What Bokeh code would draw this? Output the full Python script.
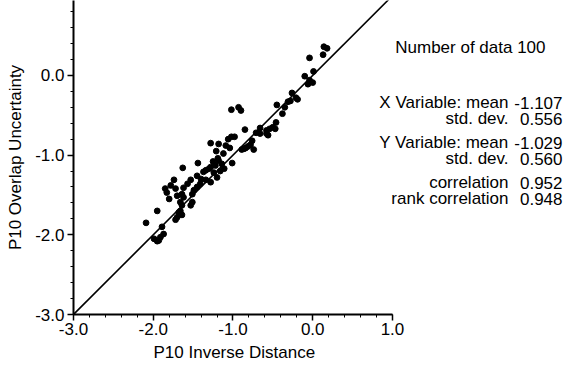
from bokeh.plotting import figure
from bokeh.models import Range1d, FixedTicker, PrintfTickFormatter, Title
from bokeh.core.properties import value
from bokeh.embed import file_html
from bokeh.resources import INLINE

# P10 inverse distance (x) against P10 overlap uncertainty (y), 100 samples
inv_dist = [
    0.14, 0.18, 0.13, -0.04, 0.01, -0.10, -0.04, 0.00, -0.06, -0.26,
    -0.21, -0.19, -0.31, -0.28, -0.45, -0.35, -0.38, -1.02, -0.93, -0.90,
    -0.46, -0.50, -0.54, -0.47, -0.58, -0.56, -0.85, -0.71, -1.02, -0.98,
    -1.06, -1.28, -1.18, -1.09, -0.78, -0.81, -0.84, -0.74, -0.89, -0.86,
    -1.04, -1.21, -1.12, -1.19, -1.44, -1.63, -1.01, -1.18, -1.14, -1.11,
    -1.28, -1.30, -1.34, -1.37, -1.24, -1.20, -1.53, -1.74, -1.78, -1.85,
    -1.83, -1.72, -1.62, -1.41, -1.45, -1.49, -1.51, -1.64, -1.62, -1.66,
    -1.64, -1.51, -1.53, -1.95, -1.68, -1.70, -2.09, -1.89, -1.87, -1.91,
    -1.99, -1.95, -1.93, -1.34, -1.28, -0.66, -0.58, -1.70, -1.64, -1.72,
    -1.66, -1.25, -1.22, -1.16, -1.45, -1.40, -1.57, -0.76, -0.66, -1.80,
]
overlap_unc = [
    0.36, 0.34, 0.26, 0.22, 0.05, -0.01, -0.06, -0.09, -0.11, -0.22,
    -0.28, -0.30, -0.33, -0.32, -0.37, -0.40, -0.48, -0.43, -0.40, -0.44,
    -0.59, -0.65, -0.67, -0.67, -0.73, -0.75, -0.68, -0.72, -0.77, -0.77,
    -0.80, -0.85, -0.86, -0.88, -0.87, -0.89, -0.91, -0.93, -0.93, -0.92,
    -0.91, -0.95, -0.98, -1.04, -1.10, -1.16, -1.10, -1.07, -1.11, -1.17,
    -1.15, -1.17, -1.19, -1.21, -1.22, -1.28, -1.31, -1.31, -1.38, -1.42,
    -1.47, -1.42, -1.41, -1.36, -1.40, -1.44, -1.49, -1.49, -1.53, -1.59,
    -1.63, -1.59, -1.63, -1.70, -1.72, -1.78, -1.85, -1.90, -1.99, -2.03,
    -2.05, -2.08, -2.07, -1.31, -1.34, -0.73, -0.69, -1.51, -1.75, -1.81,
    -1.70, -1.08, -1.13, -1.20, -1.26, -1.30, -1.36, -0.82, -0.66, -1.55,
]

axis_ticks = [-3.0, -2.0, -1.0, 0.0, 1.0]
diag = [-3.0, 1.5]

# summary statistics: (label, value) pairs
stat_names = ["X Variable: mean", "std. dev.",
              "Y Variable: mean", "std. dev.", "correlation", "rank correlation"]
stat_values = ["-1.107", "0.556", "-1.029", "0.560", "0.952", "0.948"]
count_line = "Number of data 100"

FONT = "Liberation Sans"
FS = "17px"

# the frame runs to the right edge so the statistics block can sit beside the
# data; the visible x axis is limited to -3..1
p = figure(width=565, height=368, output_backend="svg", toolbar_location=None,
           x_range=Range1d(-3.0, 3.17), y_range=Range1d(-3.0, 0.94),
           min_border_left=73, min_border_right=0, min_border_top=0,
           min_border_bottom=54)
p.outline_line_color = None
p.xgrid.visible = False
p.ygrid.visible = False
p.background_fill_color = "white"
p.border_fill_color = "white"

# panel coordinates (pixels from the frame's top-left) for free text
p.extra_x_ranges = {"panel_x": Range1d(73, 565)}
p.extra_y_ranges = {"panel_y": Range1d(314, 0)}

for ax in (p.xaxis[0], p.yaxis[0]):
    ax.ticker = FixedTicker(ticks=axis_ticks,
                            minor_ticks=[round(-3.0 + 0.2 * i, 1) for i in range(21)])
    ax.formatter = PrintfTickFormatter(format="%.1f")
    ax.axis_line_width = 2
    ax.axis_line_color = "black"
    ax.major_tick_out = 6
    ax.major_tick_in = 0
    ax.minor_tick_out = 3
    ax.minor_tick_in = 0
    ax.major_tick_line_width = 1.5
    ax.minor_tick_line_width = 1
    ax.major_label_text_font = FONT
    ax.major_label_text_font_size = FS
    ax.major_label_text_color = "black"
    ax.axis_label_text_font = FONT
    ax.axis_label_text_font_size = FS
    ax.axis_label_text_font_style = "normal"
    ax.axis_label_text_color = "black"

p.xaxis.bounds = (-3.0, 1.0)
p.xaxis.major_label_standoff = 2
p.yaxis.axis_label = "P10 Overlap Uncertainty"
p.yaxis.major_label_standoff = 3
p.yaxis.axis_label_standoff = 7

# x axis title, placed under the -3..1 span of the axis
p.add_layout(Title(text="P10 Inverse Distance", align="left", offset=80,
                   text_font=FONT, text_font_size=FS, text_font_style="normal",
                   text_color="black", standoff=7), "below")

# 1:1 reference line
p.line(diag, diag, line_color="black", line_width=1.6)

p.scatter(inv_dist, overlap_unc, size=5.8, fill_color="black", line_color="black")

# statistics block
row_y = [102, 118, 142, 158, 182, 198]
txt = dict(x_range_name="panel_x", y_range_name="panel_y", text_align="right",
           text_baseline="middle", text_font=value(FONT), text_font_size=FS,
           text_color="black")
p.text([545], [47], text=[count_line], **txt)
p.text([508] * len(stat_names), row_y, text=stat_names, **txt)
p.text([562] * len(stat_values), row_y, text=stat_values, **txt)

open("out.html", "w").write(file_html(p, INLINE))
